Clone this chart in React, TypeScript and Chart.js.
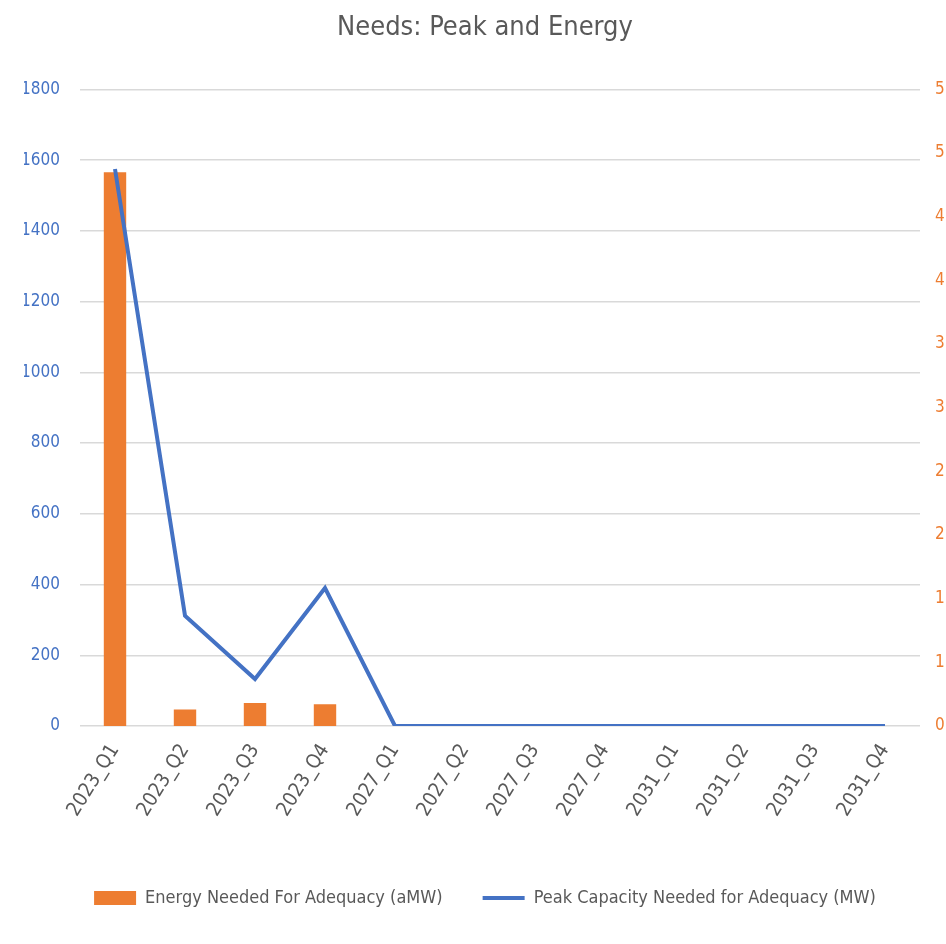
import React, { useEffect, useRef } from "react";
import { Chart, registerables } from "chart.js";

Chart.register(...registerables);

const categories = [
  "2023_Q1", "2023_Q2", "2023_Q3", "2023_Q4",
  "2027_Q1", "2027_Q2", "2027_Q3", "2027_Q4",
  "2031_Q1", "2031_Q2", "2031_Q3", "2031_Q4",
];
// Energy Needed For Adequacy (aMW) - secondary (right) axis
const energyNeeded = [4.35, 0.13, 0.18, 0.17, 0, 0, 0, 0, 0, 0, 0, 0];
// Peak Capacity Needed for Adequacy (MW) - primary (left) axis
const peakNeeded = [1575, 312, 133, 390, 0, 0, 0, 0, 0, 0, 0, 0];

const leftMax = 1800;
const leftStep = 200;
const rightMax = 5;
const rightStep = 0.5;

const FONT = "'DejaVu Sans Condensed', 'Liberation Sans', sans-serif";
const GREY = "#595959";
const BLUE = "#4472C4";
const ORANGE = "#ED7D31";

export default function App() {
  const ref = useRef<HTMLCanvasElement | null>(null);

  useEffect(() => {
    if (!ref.current) return;
    const chart = new Chart(ref.current, {
      type: "bar",
      data: {
        labels: categories,
        datasets: [
          {
            type: "bar",
            label: "Energy Needed For Adequacy (aMW)",
            data: energyNeeded,
            backgroundColor: ORANGE,
            borderWidth: 0,
            yAxisID: "y1",
            order: 2,
            barPercentage: 1,
            categoryPercentage: 0.32,
            pointStyle: "rect",
          } as any,
          {
            type: "line",
            label: "Peak Capacity Needed for Adequacy (MW)",
            data: peakNeeded,
            borderColor: BLUE,
            backgroundColor: BLUE,
            borderWidth: 4,
            pointRadius: 0,
            tension: 0,
            yAxisID: "y",
            order: 1,
            pointStyle: "line",
          } as any,
        ],
      },
      options: {
        responsive: false,
        animation: false,
        layout: { padding: { left: 24, right: 0, top: 0, bottom: 27 } },
        plugins: {
          tooltip: { enabled: false },
          title: {
            display: true,
            text: "Needs: Peak and Energy",
            color: GREY,
            font: { family: FONT, size: 27, weight: "normal" },
            padding: { top: 12, bottom: 45 },
          },
          legend: {
            position: "bottom",
            labels: {
              color: GREY,
              font: { family: FONT, size: 18 },
              usePointStyle: true,
              pointStyleWidth: 42,
              boxHeight: 14,
              padding: 40,
              sort: (a: any, b: any) => a.datasetIndex - b.datasetIndex,
            },
          },
        },
        scales: {
          x: {
            grid: { display: false },
            border: { display: false },
            ticks: {
              color: GREY,
              font: { family: FONT, size: 20 },
              minRotation: 58,
              maxRotation: 58,
              autoSkip: false,
              padding: 6,
            },
            afterFit: (s: any) => {
              s.height = 123;
            },
          },
          y: {
            position: "left",
            min: 0,
            max: leftMax,
            grid: { color: "#D9D9D9", lineWidth: 1.5, drawTicks: false },
            border: { display: false },
            ticks: {
              stepSize: leftStep,
              color: BLUE,
              font: { family: FONT, size: 17 },
              padding: 20,
              callback: (v: any) => String(v),
            },
            afterFit: (s: any) => {
              s.width = 56;
            },
          },
          y1: {
            position: "right",
            min: 0,
            max: rightMax,
            grid: { display: false, drawTicks: false },
            border: { display: false },
            ticks: {
              stepSize: rightStep,
              color: ORANGE,
              font: { family: FONT, size: 17 },
              padding: 15,
              callback: (v: any) => String(Math.round(Number(v))),
            },
            afterFit: (s: any) => {
              s.width = 26;
            },
          },
        },
      } as any,
    });
    return () => chart.destroy();
  }, []);

  return (
    <div style={{ position: "absolute", left: 0, top: 0, width: 946, height: 944, overflow: "hidden", background: "#fff" }}>
      <canvas ref={ref} width={946} height={944} />
    </div>
  );
}
